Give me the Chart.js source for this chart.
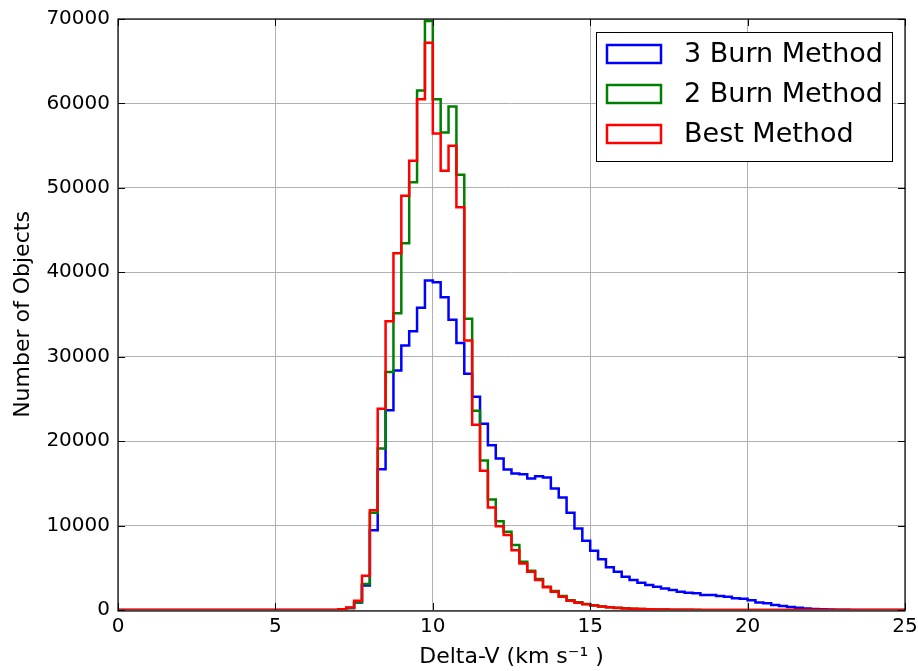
<!DOCTYPE html>
<html>
<head>
<meta charset="utf-8">
<title>Delta-V histogram</title>
<script src="https://cdn.jsdelivr.net/npm/chart.js@4.4.1/dist/chart.umd.min.js"></script>
<style>
  html, body { margin: 0; padding: 0; background: #fff; }
  #wrap { width: 918px; height: 671px; position: relative; }
</style>
</head>
<body>
<div id="wrap"><canvas id="hist"></canvas></div>
<script>
/* Histogram of Delta-V per method — 100 bins of 0.25 km/s from 0 to 25 */

const BIN_WIDTH = 0.25;

const BURN3 = [
  0, 0, 0, 0, 0, 0, 0, 0, 0, 0,
  0, 0, 0, 0, 0, 0, 0, 0, 0, 0,
  0, 0, 0, 0, 0, 0, 0, 0, 80, 250,
  900, 2900, 9460, 16670, 23650, 28380, 31340, 33030, 35790, 39020,
  38820, 37050, 34370, 31610, 27980, 25250, 22070, 19510, 17940, 16630,
  16160, 16080, 15570, 15850, 15690, 14390, 13320, 11510, 9660, 8200,
  7020, 6000, 5050, 4530, 3940, 3550, 3230, 2960, 2760, 2560,
  2360, 2170, 2050, 1970, 1770, 1770, 1650, 1580, 1400, 1320,
  1150, 900, 790, 590, 470, 350, 280, 180, 120, 80,
  50, 30, 20, 10, 5, 0, 0, 0, 0, 0
];

const BURN2 = [
  0, 0, 0, 0, 0, 0, 0, 0, 0, 0,
  0, 0, 0, 0, 0, 0, 0, 0, 0, 0,
  0, 0, 0, 0, 0, 0, 0, 0, 80, 250,
  910, 3070, 11510, 19120, 28180, 35150, 43430, 50650, 61530, 69770,
  60500, 56560, 59630, 51550, 34490, 23600, 17700, 13090, 10500, 9260,
  7690, 5710, 4650, 3670, 2750, 2250, 1650, 1150, 920, 700,
  560, 420, 340, 270, 210, 160, 120, 90, 70, 50,
  40, 30, 20, 15, 10, 8, 5, 3, 2, 1,
  0, 0, 0, 0, 0, 0, 0, 0, 0, 0,
  0, 0, 0, 0, 0, 0, 0, 0, 0, 0
];

const BEST = [
  0, 0, 0, 0, 0, 0, 0, 0, 0, 0,
  0, 0, 0, 0, 0, 0, 0, 0, 0, 0,
  0, 0, 0, 0, 0, 0, 0, 0, 100, 300,
  1100, 4060, 11820, 23850, 34200, 42250, 49070, 53200, 60500, 67200,
  56450, 52030, 54980, 47690, 31930, 21950, 16500, 12140, 9930, 8870,
  7090, 5520, 4530, 3550, 2680, 2170, 1580, 1100, 870, 670,
  530, 400, 320, 250, 190, 150, 110, 80, 60, 45,
  35, 25, 18, 12, 8, 6, 4, 2, 1, 0,
  0, 0, 0, 0, 0, 0, 0, 0, 0, 0,
  0, 0, 0, 0, 0, 0, 0, 0, 0, 0
];

const LABELS = ['3 Burn Method', '2 Burn Method', 'Best Method'];
const COLORS = ['#0000ff', '#008000', '#ff0000'];
const X_TICKS = [0, 5, 10, 15, 20, 25];
const Y_TICKS = [0, 10000, 20000, 30000, 40000, 50000, 60000, 70000];

const FONT = "'DejaVu Sans', 'Liberation Sans', sans-serif";

// step outline: one point per left bin edge, plus the last right edge
function stepPoints(counts) {
  const pts = counts.map((c, i) => ({ x: i * BIN_WIDTH, y: c }));
  pts.push({ x: counts.length * BIN_WIDTH, y: counts[counts.length - 1] });
  return pts;
}

// matplotlib-ish frame, inward ticks and legend box in the upper right
const framePlugin = {
  id: 'frame',
  afterDraw(chart) {
    const { ctx, chartArea: a, scales } = chart;
    ctx.save();
    ctx.strokeStyle = '#000';
    ctx.lineWidth = 1.2;
    ctx.strokeRect(a.left, a.top, a.right - a.left, a.bottom - a.top + 1);

    ctx.lineWidth = 1;
    ctx.beginPath();
    X_TICKS.forEach(v => {
      const x = Math.round(scales.x.getPixelForValue(v)) + 0.5;
      ctx.moveTo(x, a.bottom); ctx.lineTo(x, a.bottom - 7);
      ctx.moveTo(x, a.top);    ctx.lineTo(x, a.top + 7);
    });
    Y_TICKS.forEach(v => {
      const y = Math.round(scales.y.getPixelForValue(v)) + 0.5;
      ctx.moveTo(a.left, y);  ctx.lineTo(a.left + 7, y);
      ctx.moveTo(a.right, y); ctx.lineTo(a.right - 7, y);
    });
    ctx.stroke();

    /* legend */
    const bx = a.right - 309, by = a.top + 13, bw = 296, bh = 129;
    ctx.fillStyle = '#fff';
    ctx.fillRect(bx, by, bw, bh);
    ctx.strokeStyle = '#000';
    ctx.lineWidth = 1;
    ctx.strokeRect(bx + 0.5, by + 0.5, bw, bh);

    ctx.font = `27px ${FONT}`;
    ctx.textBaseline = 'middle';
    ctx.textAlign = 'left';
    chart.data.datasets.forEach((ds, i) => {
      const cy = by + 22 + i * 40;
      ctx.strokeStyle = ds.borderColor;
      ctx.lineWidth = 2.5;
      ctx.strokeRect(bx + 11, cy - 9, 54, 18);
      ctx.fillStyle = '#000';
      ctx.fillText(ds.label, bx + 88, cy + 1);
    });
    ctx.restore();
  }
};

const order = [2, 1, 0];   // red drawn last, on top
const datasets = [BURN3, BURN2, BEST].map((counts, i) => ({
  label: LABELS[i],
  data: stepPoints(counts),
  borderColor: COLORS[i],
  backgroundColor: COLORS[i],
  borderWidth: 2.5,
  stepped: 'before',
  pointRadius: 0,
  fill: false,
  order: order[i],
}));

new Chart(document.getElementById('hist'), {
  type: 'line',
  data: { datasets },
  plugins: [framePlugin],
  options: {
    responsive: true,
    maintainAspectRatio: false,
    animation: false,
    layout: { padding: { left: 0, right: 13, top: 19, bottom: 0 } },
    plugins: {
      legend: { display: false },
      tooltip: { enabled: false },
    },
    scales: {
      x: {
        type: 'linear',
        min: 0, max: 25,
        afterBuildTicks: s => { s.ticks = X_TICKS.map(v => ({ value: v })); },
        afterFit: s => { s.height = 61; s.paddingLeft = 0; s.paddingRight = 0; },
        ticks: { color: '#000', font: { family: FONT, size: 20 }, padding: 5, maxRotation: 0 },
        grid: { color: '#b0b0b0', lineWidth: 1, drawTicks: false },
        border: { display: false },
        title: { display: true, text: 'Delta-V (km s\u207B\u00B9 )', color: '#000',
                 font: { family: FONT, size: 22 }, padding: { top: 0, bottom: 1 } },
      },
      y: {
        min: 0, max: 70000,
        afterBuildTicks: s => { s.ticks = Y_TICKS.map(v => ({ value: v })); },
        afterFit: s => { s.width = 118; s.paddingTop = 0; s.paddingBottom = 0; },
        ticks: { color: '#000', font: { family: FONT, size: 20 }, padding: 8,
                 callback: v => String(v) },
        grid: { color: '#b0b0b0', lineWidth: 1, drawTicks: false },
        border: { display: false },
        title: { display: true, text: 'Number of Objects', color: '#000',
                 font: { family: FONT, size: 22 }, padding: { top: 10, bottom: 0 } },
      },
    },
  },
});
</script>
</body>
</html>
